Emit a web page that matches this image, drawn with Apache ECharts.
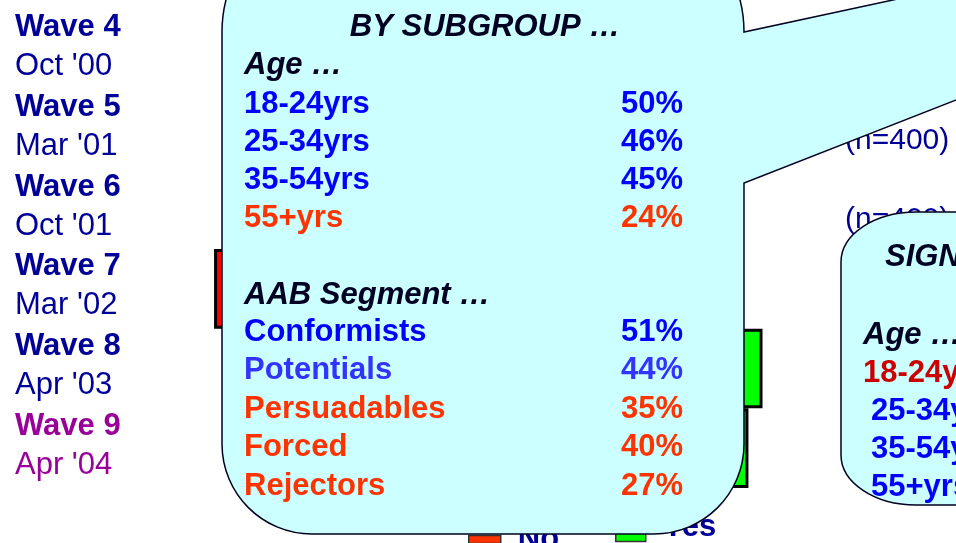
<!DOCTYPE html>
<html>
<head>
<meta charset="utf-8">
<script src="https://cdn.jsdelivr.net/npm/echarts@6/dist/echarts.min.js"></script>
<style>
html,body{margin:0;padding:0;background:#fff;}
#main{width:956px;height:543px;}
</style>
</head>
<body>
<div id="main"></div>
<script>
// waves (rows of the bar chart)
let waves = ['Wave 4', 'Wave 5', 'Wave 6', 'Wave 7', 'Wave 8', 'Wave 9'];
let waveDates = ["Oct '00", "Mar '01", "Oct '01", "Mar '02", "Apr '03", "Apr '04"];
let noPct = [55, 58, 60, 69, 47, 50];
let yesPct = [38, 35, 33, 25, 48, 45];
let sampleSize = [400, 400, 400, 400, 400, 400];

// callout: by subgroup
let ageGroups = ['18-24yrs', '25-34yrs', '35-54yrs', '55+yrs'];
let ageYes = [50, 46, 45, 24];
let segments = ['Conformists', 'Potentials', 'Persuadables', 'Forced', 'Rejectors'];
let segmentYes = [51, 44, 35, 40, 27];

// second callout (cut off at the right edge)
let sigTitle = 'SIGNIFICANT …';
let sigAgeGroups = ['18-24yrs', '25-34yrs', '35-54yrs', '55+yrs'];

// styles, kept apart from the data
let ageColors = ['#0000FF', '#0000FF', '#0000FF', '#FF3300'];
let segmentColors = ['#0000FF', '#3333FF', '#FF3300', '#FF3300', '#FF3300'];
let sigAgeColors = ['#CC0000', '#0000FF', '#0000FF', '#0000FF'];

let font = '"Liberation Sans", Arial, sans-serif';
let navy = '#000099';
let purple = '#990099';
let ink = '#000022';

// callout outlines as custom shapes
echarts.graphic.registerShape('bigCallout', echarts.graphic.extendPath(
    'M 222 32 C 222 -39.8 280.2 -98 352 -98 L 614 -98 ' +
    'C 685.8 -98 744 -39.8 744 32 L 1600 -152 L 744 183 L 744 444 ' +
    'C 744 493.7 703.7 534 654 534 L 312 534 C 262.3 534 222 493.7 222 444 Z'
));
echarts.graphic.registerShape('sideCallout', echarts.graphic.extendPath(
    'M 916 212 L 1000 212 L 1000 505 L 916 505 ' +
    'C 874.6 505 841 482.6 841 455 L 841 262 C 841 234.4 874.6 212 916 212 Z'
));

function txt(x, y, text, color, opts) {
    opts = opts || {};
    return {
        type: 'text',
        x: x,
        y: y + 2,
        z: 110,
        style: {
            text: text,
            fill: color,
            fontFamily: font,
            fontSize: opts.size || 31,
            fontWeight: opts.weight || 'bold',
            fontStyle: opts.italic ? 'italic' : 'normal',
            align: opts.align || 'left',
            verticalAlign: 'middle'
        }
    };
}

let graphics = [];

graphics.push({
    type: 'bigCallout',
    z: 100,
    style: {fill: '#CCFFFF', stroke: '#000022', lineWidth: 1.5}
});
graphics.push({
    type: 'sideCallout',
    z: 100,
    style: {fill: '#CCFFFF', stroke: '#000022', lineWidth: 1.5}
});

graphics.push(txt(485, 25, 'BY SUBGROUP …', ink, {italic: true, align: 'center'}));
graphics.push(txt(244, 63, 'Age …', ink, {italic: true}));
ageGroups.forEach(function (g, i) {
    let y = 102 + i * 38.3;
    graphics.push(txt(244, y, g, ageColors[i]));
    graphics.push(txt(683, y, ageYes[i] + '%', ageColors[i], {align: 'right'}));
});
graphics.push(txt(244, 293, 'AAB Segment …', ink, {italic: true}));
segments.forEach(function (s, i) {
    let y = 330 + i * 38.5;
    graphics.push(txt(244, y, s, segmentColors[i]));
    graphics.push(txt(683, y, segmentYes[i] + '%', segmentColors[i], {align: 'right'}));
});

graphics.push(txt(885, 255, sigTitle, ink, {italic: true}));
graphics.push(txt(863, 333, 'Age …', ink, {italic: true}));
sigAgeGroups.forEach(function (g, i) {
    graphics.push(txt(i === 0 ? 863 : 871, 371 + i * 38.3, g, sigAgeColors[i]));
});

let myChart = echarts.init(document.getElementById('main'));

let option = {
    animation: false,
    grid: {left: 200, right: 156, top: 10, bottom: 55},
    legend: [{
        data: [{name: 'No', itemStyle: {color: '#FF3300', borderColor: '#333', borderWidth: 1.5}}],
        left: 463,
        top: 519,
        itemWidth: 32,
        itemHeight: 8,
        icon: 'rect',
        textStyle: {fontSize: 31, fontWeight: 'bold', color: navy, fontFamily: font, padding: [0, 0, 0, 12]}
    }, {
        data: [{name: 'Yes', itemStyle: {color: '#00FF00', borderColor: '#333', borderWidth: 1.5}}],
        left: 610,
        top: 507,
        itemWidth: 30,
        itemHeight: 28,
        icon: 'rect',
        textStyle: {fontSize: 31, fontWeight: 'bold', color: navy, fontFamily: font, padding: [0, 0, 24, 12]}
    }],
    xAxis: {
        type: 'value',
        min: -72,
        max: 56,
        show: false
    },
    yAxis: [{
        type: 'category',
        data: waves,
        inverse: true,
        axisLine: {show: false},
        axisTick: {show: false},
        axisLabel: {
            margin: 185,
            align: 'left',
            padding: [0, 0, 5, 0],
            formatter: function (value, idx) {
                let k = idx === waves.length - 1 ? 'L' : '';
                return '{w' + k + '|' + value + '}\n{d' + k + '|' + waveDates[idx] + '}';
            },
            rich: {
                w: {fontSize: 31, fontWeight: 'bold', color: navy, fontFamily: font, lineHeight: 39},
                d: {fontSize: 31, color: navy, fontFamily: font, lineHeight: 39},
                wL: {fontSize: 31, fontWeight: 'bold', color: purple, fontFamily: font, lineHeight: 39},
                dL: {fontSize: 31, color: purple, fontFamily: font, lineHeight: 39}
            }
        }
    }, {
        type: 'category',
        data: waves,
        inverse: true,
        position: 'right',
        axisLine: {show: false},
        axisTick: {show: false},
        axisLabel: {
            margin: 45,
            align: 'left',
            fontSize: 30,
            lineHeight: 22,
            color: navy,
            fontFamily: font,
            formatter: function (value, idx) {
                // empty first line pushes the label below the row centre
                return '\n(n=' + sampleSize[idx] + ')';
            }
        }
    }],
    series: [{
        name: 'No',
        type: 'bar',
        data: noPct.map(function (v) { return -v; }),
        barCategoryGap: '0%',
        barGap: '-100%',
        itemStyle: {color: '#FF0000', borderColor: '#000', borderWidth: 3}
    }, {
        name: 'Yes',
        type: 'bar',
        data: yesPct,
        barCategoryGap: '0%',
        barGap: '-100%',
        itemStyle: {color: '#00FF00', borderColor: '#000', borderWidth: 3}
    }],
    graphic: {elements: graphics}
};

myChart.clear();
myChart.setOption(option);
</script>
</body>
</html>
